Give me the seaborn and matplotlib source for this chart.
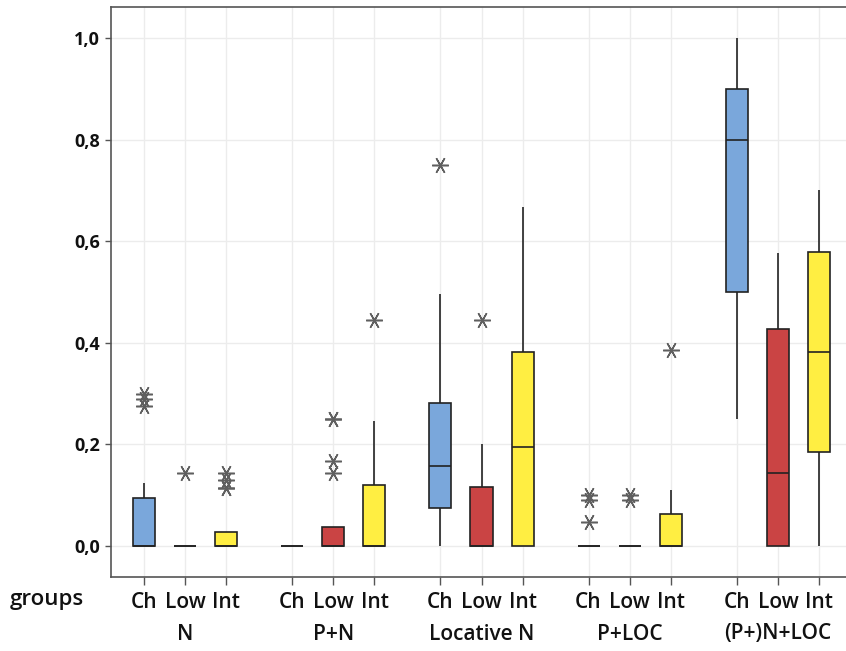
import numpy as np
import pandas as pd
import matplotlib
matplotlib.use("Agg")
import matplotlib.pyplot as plt
import matplotlib.transforms as mtransforms
from matplotlib.ticker import FuncFormatter
import seaborn as sns

# ---------------- data ----------------
groups = ['N', 'P+N', 'Locative N', 'P+LOC', '(P+)N+LOC']
levels = ['Ch', 'Low', 'Int']

# box statistics, order: group x level
whisker_low = [0.0, 0.0, 0.0,   0.0, 0.0, 0.0,    0.0, 0.0, 0.0,     0.0, 0.0, 0.0,   0.25, 0.0, 0.0]
q1          = [0.0, 0.0, 0.0,   0.0, 0.0, 0.0,    0.074, 0.0, 0.0,   0.0, 0.0, 0.0,   0.50, 0.0, 0.185]
median      = [0.0, 0.0, 0.0,   0.0, 0.0, 0.0,    0.158, 0.0, 0.194, 0.0, 0.0, 0.0,   0.80, 0.143, 0.382]
q3          = [0.094, 0.0, 0.028, 0.0, 0.037, 0.12, 0.282, 0.116, 0.381, 0.0, 0.0, 0.0625, 0.90, 0.428, 0.579]
whisker_high= [0.125, 0.0, 0.028, 0.0, 0.037, 0.247, 0.497, 0.20, 0.667, 0.0, 0.0, 0.11, 1.0, 0.577, 0.70]
outliers = [
    [0.276, 0.289, 0.30], [0.143], [0.114, 0.114, 0.13, 0.143],
    [], [0.143, 0.167, 0.25, 0.25], [0.444],
    [0.75], [0.444], [],
    [0.048, 0.091, 0.10], [0.091, 0.10], [0.385],
    [], [], [],
]

colors = {'Ch': '#7AA7DB', 'Low': '#CA4444', 'Int': '#FFEE42'}
ytick_values = [0.0, 0.2, 0.4, 0.6, 0.8, 1.0]

# ------------- rebuild observations matching the read statistics -------------
m = 5
rows = []
k = 0
for g in groups:
    for lv in levels:
        out = outliers[k]
        sample = ([whisker_low[k]] + [q1[k]] * m + [median[k]] * m + [q3[k]] * m
                  + [whisker_high[k]] + out + [q3[k]] * (m - 1 - len(out)))
        for v in sample:
            rows.append({'group': g, 'level': lv, 'value': v})
        k += 1
df = pd.DataFrame(rows)

# ---------------- figure ----------------
plt.rcParams['font.family'] = ['Open Sans', 'DejaVu Sans']
W, H = 846, 651
fig = plt.figure(figsize=(W / 100, H / 100), dpi=100)
ax = fig.add_axes([111 / W, 1 - 577 / H, 741 / W, 570 / H])

box_width = 0.834
sns.boxplot(
    data=df, x='group', y='value', hue='level',
    order=groups, hue_order=levels, palette=colors, saturation=1,
    width=box_width, gap=0.466, dodge=True,
    linecolor='#222222', linewidth=1.2, showcaps=False,
    flierprops=dict(marker=(6, 2, 30), markersize=12, markeredgecolor='#5f5f5f',
                    markerfacecolor='#5f5f5f', markeredgewidth=1.1, linestyle='none'),
    legend=False, ax=ax,
)

ax.set_xlim(-0.5, len(groups) - 0.5)
ax.set_ylim(-0.061, 1.061)

# ticks at each box position
n = len(levels)
offsets = [-box_width / 2 + box_width / (2 * n) + j * box_width / n for j in range(n)]
xticks = [i + o for i in range(len(groups)) for o in offsets]
ax.set_xticks(xticks)
ax.set_xticklabels(levels * len(groups))
ax.set_yticks(ytick_values)
ax.yaxis.set_major_formatter(FuncFormatter(lambda v, p: f"{v:.1f}".replace('.', ',')))

ax.set_xlabel('')
ax.set_ylabel('')

ax.grid(True, color='#ececec', linewidth=1.0)
ax.set_axisbelow(True)

for s in ['left', 'top', 'bottom']:
    ax.spines[s].set_color('#555555')
    ax.spines[s].set_linewidth(1.2)
ax.spines['right'].set_visible(False)

ax.tick_params(axis='x', length=6, width=1.0, color='#555555', pad=5,
               labelsize=15, labelcolor='#111111')
ax.tick_params(axis='y', length=4, width=1.0, color='#555555', pad=4,
               labelsize=13, labelcolor='#111111')
for lab in ax.get_yticklabels():
    lab.set_fontweight('bold')
for lab in ax.get_xticklabels():
    lab.set_fontweight('semibold')

trans = mtransforms.blended_transform_factory(ax.transData, ax.transAxes)
for i, g in enumerate(groups):
    ax.text(i, (577 - 634) / 570, g, transform=trans, ha='center', va='center',
            fontsize=15, fontweight='semibold', color='#111111')

fig.text(10 / W, 1 - 600 / H, 'groups', ha='left', va='center', fontsize=16,
         fontweight='semibold', color='#111111')

fig.savefig('out.png', dpi=100)
